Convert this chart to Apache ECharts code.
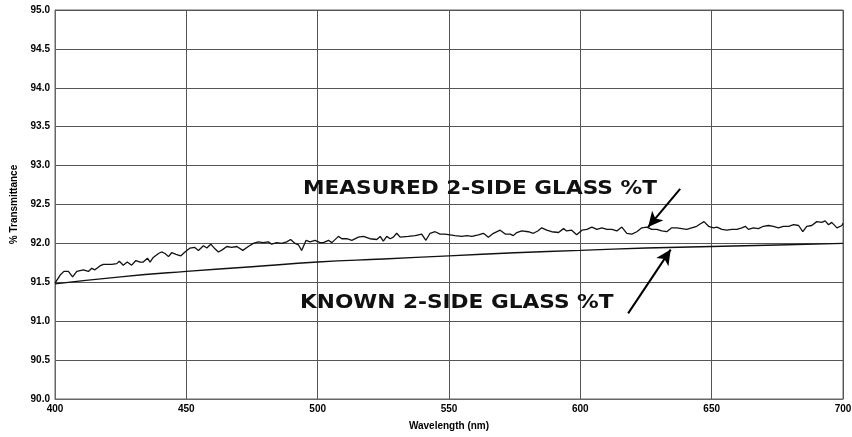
<!DOCTYPE html>
<html>
<head>
<meta charset="utf-8">
<script src="https://cdn.jsdelivr.net/npm/echarts@6/dist/echarts.min.js"></script>
<style>html,body{margin:0;padding:0;background:#fff}#c{width:852px;height:437px}</style>
</head>
<body>
<div id="c"></div>
<script>
var xTicks = [400, 450, 500, 550, 600, 650, 700];
var yTicks = [90.0, 90.5, 91.0, 91.5, 92.0, 92.5, 93.0, 93.5, 94.0, 94.5, 95.0];

var measuredWl = [400,401.9,403.4,405.1,406.7,408.3,410.8,412.7,414.0,415.2,417.1,418.4,421.6,423.5,424.5,426.0,427.5,429.2,430.8,432.4,433.6,435.2,436.2,437.4,439.4,440.6,441.9,443.2,444.4,446.1,447.9,449.5,451.4,453.1,454.6,456.5,457.8,459.3,460.9,462.2,463.8,465.4,467.3,469.2,471.5,473.6,475.5,477.4,479.3,481.2,482.5,484.4,486.3,488.2,489.7,491.4,492.7,493.9,495.6,497.1,499.0,500.9,502.2,504.1,505.4,507.9,509.2,511.1,513.0,515.5,517.4,519.9,522.5,523.8,525.0,526.3,527.6,528.8,530.1,531.4,534.5,537.1,539.6,541.2,542.8,544.7,546.6,548.5,550.4,552.3,554.9,556.8,558.7,561.2,563.1,565.0,566.9,569.5,571.4,573.3,574.5,575.8,577.7,580.2,582.1,583.8,585.3,587.2,589.1,591.7,593.6,594.8,596.7,598.6,600.6,602.5,604.4,606.3,608.2,610.1,612.0,613.9,615.8,617.7,619.6,621.5,623.4,625.3,627.2,629.1,631.0,632.9,634.8,636.7,638.6,640.5,642.4,644.3,645.6,647.1,648.8,650.7,652.0,653.9,655.8,657.7,659.6,661.5,662.8,664.0,665.9,667.8,669.7,671.6,673.5,675.4,677.3,679.3,681.2,683.1,684.7,686.2,688.1,690.0,691.9,693.2,694.5,695.7,697.7,699.6,700];
var measuredT = [91.49,91.59,91.64,91.64,91.57,91.64,91.66,91.64,91.68,91.66,91.71,91.73,91.73,91.74,91.77,91.72,91.76,91.72,91.78,91.76,91.76,91.81,91.76,91.82,91.87,91.89,91.87,91.83,91.88,91.86,91.84,91.89,91.94,91.95,91.91,91.97,91.94,91.99,91.93,91.89,91.92,91.96,91.95,91.96,91.91,91.96,92.00,92.02,92.01,92.02,91.99,92.01,92.00,92.02,92.05,92.00,91.98,91.91,92.04,92.02,92.04,92.01,92.01,92.04,92.01,92.09,92.06,92.06,92.04,92.08,92.09,92.06,92.05,92.09,92.03,92.09,92.06,92.08,92.13,92.08,92.09,92.10,92.12,92.04,92.13,92.15,92.12,92.12,92.11,92.10,92.09,92.10,92.09,92.11,92.13,92.08,92.13,92.17,92.12,92.12,92.10,92.14,92.16,92.15,92.13,92.16,92.20,92.17,92.15,92.14,92.19,92.16,92.17,92.11,92.17,92.18,92.21,92.18,92.20,92.18,92.18,92.16,92.21,92.13,92.12,92.15,92.20,92.21,92.18,92.18,92.16,92.15,92.20,92.20,92.19,92.18,92.20,92.22,92.25,92.28,92.22,92.20,92.21,92.18,92.17,92.18,92.18,92.20,92.22,92.18,92.20,92.19,92.22,92.23,92.22,92.20,92.22,92.22,92.24,92.23,92.15,92.22,92.23,92.28,92.27,92.29,92.24,92.27,92.20,92.23,92.26];

var knownWl = [400, 425, 450, 475, 500, 525, 550, 575, 600, 625, 650, 675, 700];
var knownT = [91.48, 91.57, 91.64, 91.70, 91.76, 91.80, 91.84, 91.88, 91.91, 91.94, 91.96, 91.98, 92.00];

var measuredLabel = 'MEASURED 2-SIDE GLASS %T';
var knownLabel = 'KNOWN 2-SIDE GLASS %T';
var measuredArrow = [[638.0, 92.70], [625.8, 92.21]];
var knownArrow = [[618.2, 91.10], [634.4, 91.92]];

function pairs(xs, ys) { return xs.map(function (x, i) { return [x, ys[i]]; }); }

var chart = echarts.init(document.getElementById('c'), null, { renderer: 'canvas' });
var lblFont = { fontFamily: 'Liberation Sans, Arial, sans-serif', fontWeight: 'bold', fontSize: 10, color: '#000' };
chart.setOption({
  animation: false,
  backgroundColor: '#fff',
  grid: { left: 55, right: 9, top: 10, bottom: 38, show: true, borderColor: '#666', borderWidth: 1,
          containLabel: false, outerBoundsMode: 'none' },
  xAxis: {
    type: 'value', min: xTicks[0], max: xTicks[xTicks.length - 1], interval: 50,
    name: 'Wavelength (nm)', nameLocation: 'middle', nameGap: 22,
    nameTextStyle: lblFont,
    axisLine: { lineStyle: { color: '#666', width: 1 } },
    axisTick: { show: false },
    axisLabel: Object.assign({ margin: 5 }, lblFont),
    splitLine: { lineStyle: { color: '#555', width: 1 } }
  },
  yAxis: {
    type: 'value', min: yTicks[0], max: yTicks[yTicks.length - 1], interval: 0.5,
    name: '% Transmittance', nameLocation: 'middle', nameGap: 36,
    nameTextStyle: lblFont,
    axisLine: { show: true, lineStyle: { color: '#666', width: 1 } },
    axisTick: { show: false },
    axisLabel: Object.assign({ margin: 5, formatter: function (v) { return v.toFixed(1); } }, lblFont),
    splitLine: { lineStyle: { color: '#555', width: 1 } }
  },
  series: [
    {
      type: 'line', name: 'Known', data: pairs(knownWl, knownT), smooth: true,
      showSymbol: false, lineStyle: { color: '#111', width: 1.4 }, z: 3,
      markLine: {
        silent: true, symbol: ['none', 'arrow'], symbolSize: [11, 15],
        lineStyle: { color: '#000', width: 2, type: 'solid' }, label: { show: false },
        data: [[{ coord: knownArrow[0] }, { coord: knownArrow[1] }]]
      }
    },
    {
      type: 'line', name: 'Measured', data: pairs(measuredWl, measuredT),
      showSymbol: false, lineStyle: { color: '#111', width: 1.3 }, z: 4,
      markLine: {
        silent: true, symbol: ['none', 'arrow'], symbolSize: [11, 15],
        lineStyle: { color: '#000', width: 2, type: 'solid' }, label: { show: false },
        data: [[{ coord: measuredArrow[0] }, { coord: measuredArrow[1] }]]
      }
    }
  ],
  graphic: [
    { type: 'text', x: 303, y: 180, scaleX: 1.14, z: 10,
      style: { text: measuredLabel, font: 'bold 19px "DejaVu Sans", Verdana, sans-serif', fill: '#111' } },
    { type: 'text', x: 300, y: 294, scaleX: 1.14, z: 10,
      style: { text: knownLabel, font: 'bold 19px "DejaVu Sans", Verdana, sans-serif', fill: '#111' } }
  ]
});
</script>
</body>
</html>
